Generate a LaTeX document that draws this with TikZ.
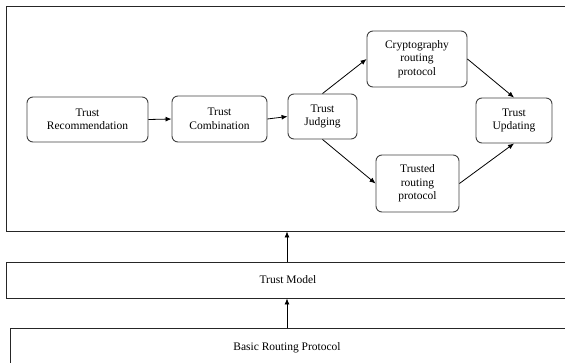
\documentclass[tikz,border=0pt]{standalone}
\usepackage{fontspec}
\setmainfont{Liberation Serif}
\usetikzlibrary{arrows.meta}
\begin{document}
\begin{tikzpicture}[x=1pt,y=-1pt,
  rbox/.style={draw=black!75, line width=0.9pt, rounded corners=6pt, align=center,
    font=\fontsize{11.5}{13.5}\selectfont, inner sep=0pt},
  layer/.style={draw=black!85, line width=0.9pt, inner sep=0pt, font=\fontsize{11.5}{13.5}\selectfont},
  arr/.style={line width=0.8pt, -{Latex[length=6pt,width=5pt]}}]
\useasboundingbox (0,0) rectangle (565,363);
\node[layer, minimum width=564pt, minimum height=225pt] (outer) at (288,118.5) {};
\node[layer, minimum width=564pt, minimum height=36pt] (model) at (288,280) {Trust Model};
\node[layer, minimum width=560pt, minimum height=42pt, anchor=north west] (basic) at (10,328) {};
\node at (287,348) [font=\fontsize{11.5}{13.5}\selectfont] (basictext) {Basic Routing Protocol};
\coordinate (ax) at (287,0);
\node[rbox, minimum width=121pt, minimum height=45pt] (rec) at (87.5,119.5) {Trust\\Recommendation};
\node[rbox, minimum width=95pt, minimum height=46pt] (comb) at (219.5,119) {Trust\\Combination};
\node[rbox, minimum width=69pt, minimum height=45pt] (judg) at (322.5,116.5) {Trust\\Judging};
\node[rbox, minimum width=100pt, minimum height=56pt] (crypto) at (417,59) {Cryptography\\routing\\protocol};
\node[rbox, minimum width=76pt, minimum height=45pt] (upd) at (514,120.5) {Trust\\Updating};
\node[rbox, minimum width=83pt, minimum height=57pt] (trusted) at (417.5,183.5) {Trusted\\routing\\protocol};
\draw[arr] (rec.east) -- (comb.west);
\draw[arr] (comb.east) -- (judg.west);
\draw[arr] (judg.north) -- (crypto.west);
\draw[arr] (judg.south) -- (trusted.west);
\draw[arr] (crypto.east) -- (upd.north);
\draw[arr] (trusted.east) -- (upd.south);
\draw[arr] (model.north -| ax) -- (outer.south -| ax);
\draw[arr] (basic.north -| ax) -- (model.south -| ax);
\end{tikzpicture}
\end{document}
